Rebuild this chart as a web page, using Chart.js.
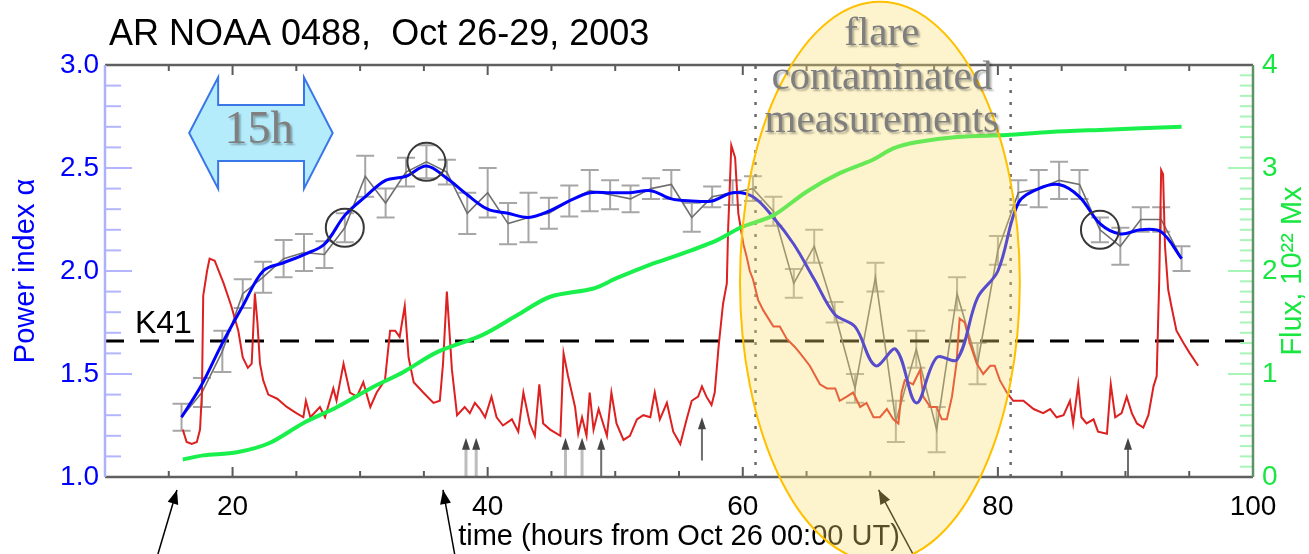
<!DOCTYPE html>
<html>
<head>
<meta charset="utf-8">
<script src="https://cdn.jsdelivr.net/npm/chart.js@4.4.0/dist/chart.umd.min.js"></script>
<style>
  html, body { margin: 0; padding: 0; background: #fff; }
  canvas { display: block; }
</style>
</head>
<body>
<canvas id="chart" width="1309" height="554"></canvas>
<script>
// time axis: hours from Oct 26 00:00 UT (one alpha value per 96-min magnetogram)
var hours = [16.0, 17.6, 19.2, 20.8, 22.4, 24.0, 25.6, 27.2, 28.8, 30.4, 32.0, 33.6, 35.2, 36.8, 38.4,
  40.0, 41.6, 43.2, 44.8, 46.4, 48.0, 49.6, 51.2, 52.8, 54.4, 56.0, 57.6, 59.2, 60.8, 62.4, 64.0,
  65.6, 67.2, 68.8, 70.4, 72.0, 73.6, 75.2, 76.8, 78.4, 80.0, 81.6, 83.2, 84.8, 86.4, 88.0, 89.6,
  91.2, 92.8, 94.4];
var powerIndex = [1.29, 1.41, 1.61, 1.89, 1.97, 2.06, 2.09, 2.08, 2.21, 2.46, 2.33, 2.48, 2.53, 2.48, 2.28,
  2.38, 2.23, 2.26, 2.28, 2.34, 2.39, 2.37, 2.35, 2.40, 2.42, 2.26, 2.36, 2.38, 2.40, 2.29, 1.94,
  2.12, 1.80, 1.43, 1.97, 1.27, 1.62, 1.23, 1.89, 1.55, 2.10, 2.38, 2.40, 2.44, 2.42, 2.20, 2.12,
  2.25, 2.25, 2.06];
var powerIndexErr = [0.065, 0.07, 0.10, 0.07, 0.075, 0.09, 0.09, 0.065, 0.07, 0.10, 0.07, 0.07, 0.08, 0.06, 0.10,
  0.12, 0.10, 0.12, 0.075, 0.075, 0.10, 0.07, 0.065, 0.05, 0.07, 0.07, 0.05, 0.06, 0.06, 0.07, 0.07,
  0.08, 0.05, 0.07, 0.07, 0.10, 0.09, 0.11, 0.08, 0.10, 0.07, 0.06, 0.09, 0.09, 0.07, 0.06, 0.09,
  0.06, 0.06, 0.06];
var powerIndexSmooth = [1.29, 1.45, 1.65, 1.83, 2.00, 2.04, 2.08, 2.13, 2.27, 2.36, 2.44, 2.46, 2.51, 2.45, 2.37,
  2.30, 2.28, 2.26, 2.29, 2.34, 2.38, 2.38, 2.38, 2.39, 2.35, 2.34, 2.34, 2.38, 2.36, 2.26, 2.13,
  1.96, 1.79, 1.73, 1.54, 1.62, 1.36, 1.58, 1.57, 1.87, 2.00, 2.33, 2.40, 2.42, 2.36, 2.23, 2.18,
  2.20, 2.19, 2.06];
var circledPoints = [8, 12, 45];

// total unsigned flux, 10^22 Mx (right axis)
var fluxHours = [16.1, 17.7, 20.35, 22.9, 25.5, 28.2, 30.8, 33.4, 36.0, 39.6, 42.3, 44.9, 48.3, 50.1, 52.7,
  55.3, 58.0, 59.8, 62.4, 65.0, 67.6, 70.2, 71.8, 73.6, 76.8, 80.7, 84.1, 88.0, 94.4];
var flux = [0.17, 0.21, 0.24, 0.33, 0.52, 0.68, 0.86, 1.02, 1.21, 1.38, 1.57, 1.75, 1.83, 1.93, 2.06,
  2.17, 2.30, 2.42, 2.54, 2.77, 2.95, 3.08, 3.19, 3.25, 3.30, 3.32, 3.35, 3.37, 3.40];

// X-ray flux curve, arbitrary scaling on the alpha axis
var xrayHours = [16.1, 16.4, 16.8, 17.2, 17.45, 17.6, 17.7, 18.0, 18.2, 18.6, 19.3, 19.9, 20.45, 20.8, 21.2,
  21.5, 21.75, 21.95, 22.15, 22.4, 22.8, 23.5, 24.25, 25.0, 25.55, 25.75, 26.1, 26.85, 27.25, 27.9,
  28.15, 28.7, 29.2, 29.75, 30.25, 30.8, 31.3, 31.95, 32.35, 32.75, 33.1, 33.5, 33.8, 34.2, 34.95,
  35.75, 36.25, 36.5, 36.8, 37.2, 37.6,
  38.2, 38.6, 39.0, 39.4, 39.8, 40.3, 40.7, 41.2, 41.9, 42.4, 42.8, 43.3, 43.7, 44.05, 44.35,
  44.9, 45.7, 45.95, 46.3, 46.85, 47.1, 47.4, 47.75, 48.0, 48.3, 48.7, 49.05, 49.35, 49.7, 50.1,
  50.65, 51.15, 51.7, 52.2, 52.75, 53.1, 53.5, 54.05, 54.55, 55.1, 55.6, 56.0, 56.5, 56.8, 57.15,
  57.55, 57.8, 58.1, 58.45, 58.75, 58.85, 59.0, 59.1, 59.4, 59.65, 60.05, 60.3, 60.55, 60.8, 61.2,
  61.6, 62.4, 62.9, 63.45, 64.1, 64.5, 65.25, 66.05, 66.6, 67.25, 67.6, 68.15, 68.65, 69.2, 69.7,
  70.25, 70.75, 71.3, 71.8, 72.2, 72.45, 72.7, 73.35, 73.9, 74.15, 74.7, 75.2, 75.6, 76.0, 76.4,
  76.75, 77.0, 77.4, 77.8, 78.35, 78.85, 79.4, 79.75, 80.15, 80.7, 81.2, 82.0, 82.8, 83.55, 84.1,
  84.6, 85.15, 85.65, 85.9, 86.3, 86.55, 86.95, 87.5, 87.85, 88.55, 88.85, 89.2, 89.7, 90.1, 90.5,
  90.9, 91.4, 91.8, 92.2, 92.45, 92.65, 92.8, 92.95, 93.1, 93.35, 93.6, 94.0, 94.55, 95.05, 95.7];
var xrayLevel = [1.23, 1.17, 1.16, 1.17, 1.23, 1.41, 1.88, 2.00, 2.06, 2.05, 1.94, 1.83, 1.71, 1.58, 1.53,
  1.55, 1.89, 1.75, 1.55, 1.47, 1.40, 1.38, 1.34, 1.31, 1.29, 1.37, 1.29, 1.34, 1.29, 1.43,
  1.37, 1.55, 1.41, 1.39, 1.46, 1.34, 1.41, 1.47, 1.71, 1.71, 1.68, 1.83, 1.58, 1.46, 1.41,
  1.36, 1.37, 1.55, 1.90, 1.52, 1.30,
  1.34, 1.31, 1.36, 1.33, 1.29, 1.39, 1.29, 1.25, 1.28, 1.22, 1.41, 1.26, 1.20, 1.45, 1.26,
  1.23, 1.20, 1.60, 1.49, 1.34, 1.21, 1.29, 1.20, 1.41, 1.23, 1.33, 1.26, 1.20, 1.41, 1.26,
  1.18, 1.20, 1.28, 1.30, 1.29, 1.41, 1.28, 1.36, 1.22, 1.16, 1.28, 1.37, 1.39, 1.44, 1.39,
  1.35, 1.41, 1.63, 1.84, 1.94, 2.20, 2.44, 2.61, 2.55, 2.28, 2.13, 2.07, 2.00, 1.96, 1.86,
  1.81, 1.73, 1.73, 1.67, 1.63, 1.60, 1.54, 1.45, 1.43, 1.43, 1.37, 1.39, 1.41, 1.34, 1.36,
  1.29, 1.29, 1.33, 1.28, 1.26, 1.41, 1.47, 1.45, 1.52, 1.39, 1.34, 1.34, 1.28, 1.28, 1.39,
  1.55, 1.77, 1.75, 1.65, 1.55, 1.50, 1.54, 1.54, 1.47, 1.41, 1.37, 1.37, 1.33, 1.31, 1.33,
  1.29, 1.30, 1.37, 1.26, 1.45, 1.29, 1.26, 1.28, 1.22, 1.21, 1.45, 1.29, 1.31, 1.39, 1.31,
  1.26, 1.24, 1.30, 1.44, 1.49, 1.96, 2.49, 2.47, 2.12, 1.91, 1.83, 1.71, 1.65, 1.60, 1.54];

// flares marked with small arrows
var flareArrowHours = [38.3, 39.1, 46.1, 47.4, 48.9, 56.8, 90.2];
var flareArrowTip = [1.19, 1.19, 1.19, 1.19, 1.19, 1.29, 1.19];
var flareArrowBase = [1.0, 1.0, 1.0, 1.0, 1.0, 1.08, 1.0];
var flareArrowFaint = [true, true, true, true, false, false, false];

var xTicks = [20, 40, 60, 80, 100];
var K41 = 1.66;
var flareWindow = [61, 81];

var BLUE = '#0000ff';
var GREEN = '#19e640';
Chart.defaults.font.family = '"Liberation Sans", Arial, sans-serif';

function pts(xs, ys) {
  return xs.map(function (x, i) { return { x: x, y: ys[i] }; });
}

function arrowHead(ctx, x0, y0, x1, y1, len, half) {
  var ang = Math.atan2(y1 - y0, x1 - x0), c = Math.cos(ang), s = Math.sin(ang);
  ctx.beginPath();
  ctx.moveTo(x1, y1);
  ctx.lineTo(x1 - len * c + half * s, y1 - len * s - half * c);
  ctx.lineTo(x1 - len * c - half * s, y1 - len * s + half * c);
  ctx.closePath();
  ctx.fill();
}

var overlay = {
  id: 'overlay',
  beforeDatasetsDraw: function (chart) {
    var ctx = chart.ctx, X = chart.scales.x, Y = chart.scales.y;
    ctx.save();
    ctx.strokeStyle = '#a6a6a6';
    ctx.lineWidth = 2;
    hours.forEach(function (t, i) {
      var px = X.getPixelForValue(t);
      var lo = Y.getPixelForValue(powerIndex[i] - powerIndexErr[i]);
      var hi = Y.getPixelForValue(powerIndex[i] + powerIndexErr[i]);
      ctx.beginPath();
      ctx.moveTo(px, lo); ctx.lineTo(px, hi);
      ctx.moveTo(px - 9, lo); ctx.lineTo(px + 9, lo);
      ctx.moveTo(px - 9, hi); ctx.lineTo(px + 9, hi);
      ctx.stroke();
    });
    ctx.restore();
  },
  afterDraw: function (chart) {
    var ctx = chart.ctx, a = chart.chartArea;
    var X = chart.scales.x, Y = chart.scales.y, Y2 = chart.scales.y2;
    var px = function (v) { return X.getPixelForValue(v); };
    var py = function (v) { return Y.getPixelForValue(v); };
    ctx.save();

    // flare arrows inside the plot
    flareArrowHours.forEach(function (t, i) {
      var x = px(t), yt = py(flareArrowTip[i]), yb = py(flareArrowBase[i]);
      ctx.strokeStyle = flareArrowFaint[i] ? '#bdbdbd' : '#6e6e6e';
      ctx.lineWidth = flareArrowFaint[i] ? 3 : 2;
      ctx.beginPath(); ctx.moveTo(x, yb); ctx.lineTo(x, yt + 8); ctx.stroke();
      ctx.fillStyle = '#454545';
      arrowHead(ctx, x, yb, x, yt, 12, 4);
    });

    // K41 label
    ctx.fillStyle = '#000';
    ctx.font = '32px "Liberation Sans", Arial, sans-serif';
    ctx.textAlign = 'left';
    ctx.textBaseline = 'alphabetic';
    ctx.fillText('K41', px(12.35), py(1.70));

    // pointer arrows below the axis
    [[14.15, 0.626, 15.64, 0.937], [37.41, 0.626, 36.5, 0.937], [73.34, 0.626, 70.65, 0.937]].forEach(function (p) {
      var x0 = px(p[0]), y0 = py(p[1]), x1 = px(p[2]), y1 = py(p[3]);
      ctx.strokeStyle = '#000'; ctx.fillStyle = '#000'; ctx.lineWidth = 1.5;
      ctx.beginPath(); ctx.moveTo(x0, y0); ctx.lineTo(x1, y1); ctx.stroke();
      arrowHead(ctx, x0, y0, x1, y1, 14, 5.5);
    });

    // axis tick marks (inward) and frame
    ctx.lineWidth = 2;
    ctx.strokeStyle = '#5a5a5a';
    for (var t = 10; t <= 100; t += 5) {
      var tx = px(t), tl = t % 20 === 0 ? 10 : 6;
      ctx.beginPath();
      ctx.moveTo(tx, a.bottom); ctx.lineTo(tx, a.bottom - tl);
      ctx.moveTo(tx, a.top); ctx.lineTo(tx, a.top + tl);
      ctx.stroke();
    }
    ctx.strokeStyle = '#b3b6ff';
    for (var i = 0; i <= 20; i++) {
      var ly = py(1 + i / 10), ll = i % 5 === 0 ? 27 : 16;
      ctx.beginPath(); ctx.moveTo(a.left, ly); ctx.lineTo(a.left + ll, ly); ctx.stroke();
    }
    ctx.strokeStyle = '#a8f5b8';
    for (var j = 0; j <= 40; j++) {
      var ry = Y2.getPixelForValue(j / 10), rl = j % 10 === 0 ? 25 : 13;
      ctx.beginPath(); ctx.moveTo(a.right, ry); ctx.lineTo(a.right - rl, ry); ctx.stroke();
    }
    ctx.lineWidth = 2.5;
    ctx.strokeStyle = '#5f5f5f';
    ctx.beginPath();
    ctx.moveTo(a.left, a.top); ctx.lineTo(a.right, a.top);
    ctx.moveTo(a.left, a.bottom); ctx.lineTo(a.right, a.bottom);
    ctx.stroke();
    ctx.strokeStyle = '#aeb2fa';
    ctx.beginPath(); ctx.moveTo(a.left, a.top); ctx.lineTo(a.left, a.bottom); ctx.stroke();
    ctx.strokeStyle = '#5f9266';
    ctx.beginPath(); ctx.moveTo(a.right, a.top); ctx.lineTo(a.right, a.bottom); ctx.stroke();

    // right axis title (reads bottom to top)
    ctx.save();
    ctx.translate(1293, (a.top + a.bottom) / 2);
    ctx.rotate(-Math.PI / 2);
    ctx.fillStyle = GREEN;
    ctx.font = '29px "Liberation Sans", Arial, sans-serif';
    ctx.textAlign = 'center';
    ctx.textBaseline = 'middle';
    ctx.fillText('Flux, 10\u00b2\u00b2 Mx', 0, 0);
    ctx.restore();

    // flare-contaminated region
    var cx = px(70.75), cy = py(1.947);
    var rx = px(70.75 + 10.97) - cx, ry = py(1.947 - 1.36) - cy;
    ctx.beginPath();
    ctx.ellipse(cx, cy, rx, ry, 0, 0, Math.PI * 2);
    ctx.fillStyle = 'rgba(249, 221, 109, 0.35)';
    ctx.fill();
    ctx.strokeStyle = '#ffc000';
    ctx.lineWidth = 2;
    ctx.stroke();

    ctx.font = '41px "Liberation Serif", "Times New Roman", serif';
    ctx.textAlign = 'center';
    ctx.textBaseline = 'alphabetic';
    ctx.shadowColor = 'rgba(0, 0, 0, 0.3)';
    ctx.shadowOffsetX = 2; ctx.shadowOffsetY = 2; ctx.shadowBlur = 2;
    ctx.fillStyle = '#7f7f7f';
    ctx.fillText('flare', px(70.9), py(3.097));
    ctx.fillText('contaminated', px(70.9), py(2.883));
    ctx.fillText('measurements', px(70.9), py(2.675));
    ctx.shadowColor = 'rgba(0, 0, 0, 0)';

    // 15h double arrow
    var l = px(16.6), r = px(27.85), hl = px(18.87), hr = px(25.6);
    var mid = py(2.67), ht = py(2.94), hb = py(2.40), st = py(2.806), sb = py(2.534);
    ctx.beginPath();
    ctx.moveTo(l, mid);
    ctx.lineTo(hl, ht); ctx.lineTo(hl, st); ctx.lineTo(hr, st); ctx.lineTo(hr, ht);
    ctx.lineTo(r, mid);
    ctx.lineTo(hr, hb); ctx.lineTo(hr, sb); ctx.lineTo(hl, sb); ctx.lineTo(hl, hb);
    ctx.closePath();
    ctx.fillStyle = '#b4ecfc';
    ctx.fill();
    ctx.strokeStyle = '#3a76e8';
    ctx.lineWidth = 2;
    ctx.stroke();
    ctx.font = '46px "Liberation Serif", "Times New Roman", serif';
    ctx.shadowColor = 'rgba(0, 0, 0, 0.3)';
    ctx.fillStyle = '#7f7f7f';
    ctx.fillText('15h', px(22.07), py(2.621));
    ctx.shadowColor = 'rgba(0, 0, 0, 0)';

    // title
    ctx.fillStyle = '#000';
    ctx.font = '36px "Liberation Sans", Arial, sans-serif';
    ctx.textAlign = 'left';
    ctx.fillText('AR NOAA 0488,  Oct 26-29, 2003', a.left + 4, a.top - 20);
    ctx.restore();
  }
};

new Chart(document.getElementById('chart'), {
  type: 'line',
  data: {
    datasets: [
      {
        data: circledPoints.map(function (i) { return { x: hours[i], y: powerIndex[i] }; }),
        showLine: false, pointRadius: 19, pointBorderWidth: 2,
        pointBorderColor: '#383838', pointBackgroundColor: 'rgba(0,0,0,0)',
        yAxisID: 'y', order: 0
      },
      {
        data: pts(fluxHours, flux),
        borderColor: '#19f04b', borderWidth: 4, pointRadius: 0, yAxisID: 'y2', order: 1,
        tension: 0.3
      },
      {
        data: pts(hours, powerIndexSmooth),
        borderColor: BLUE, borderWidth: 3, pointRadius: 0, yAxisID: 'y', order: 2,
        tension: 0.35
      },
      {
        data: pts(xrayHours, xrayLevel),
        borderColor: '#dd2020', borderWidth: 2, pointRadius: 0, yAxisID: 'y', order: 3
      },
      {
        data: pts(hours, powerIndex),
        borderColor: '#6f6f6f', borderWidth: 1.6, pointRadius: 0, yAxisID: 'y', order: 4
      },
      {
        data: [{ x: 10, y: K41 }, { x: 100, y: K41 }],
        borderColor: '#000', borderWidth: 3, borderDash: [19, 16], pointRadius: 0, yAxisID: 'y', order: 5
      },
      {
        data: [{ x: flareWindow[0], y: 1 }, { x: flareWindow[0], y: 3 }],
        borderColor: '#6a6a6a', borderWidth: 2.5, borderDash: [3, 9], pointRadius: 0, yAxisID: 'y', order: 6
      },
      {
        data: [{ x: flareWindow[1], y: 1 }, { x: flareWindow[1], y: 3 }],
        borderColor: '#6a6a6a', borderWidth: 2.5, borderDash: [3, 9], pointRadius: 0, yAxisID: 'y', order: 6
      }
    ]
  },
  options: {
    responsive: false,
    devicePixelRatio: 1,
    animation: false,
    events: [],
    layout: { padding: { top: 65, left: 0, right: 0, bottom: 0 } },
    plugins: { legend: { display: false }, tooltip: { enabled: false }, title: { display: false } },
    elements: { line: { tension: 0, fill: false } },
    scales: {
      x: {
        type: 'linear', position: 'bottom', min: 10, max: 100,
        afterBuildTicks: function (s) { s.ticks = xTicks.map(function (v) { return { value: v }; }); },
        ticks: { autoSkip: false, maxRotation: 0, padding: 13, color: '#000', font: { size: 28 } },
        grid: { display: false, drawTicks: false }, border: { display: false },
        title: { display: true, text: 'time (hours from Oct 26 00:00 UT)', color: '#000',
          font: { size: 29 }, padding: { top: 0, bottom: 0 } },
        afterFit: function (s) { s.height = 77; }
      },
      y: {
        type: 'linear', position: 'left', min: 1, max: 3,
        ticks: { stepSize: 0.5, padding: 6, color: BLUE, font: { size: 28 },
          callback: function (v) { return v.toFixed(1); } },
        grid: { display: false, drawTicks: false }, border: { display: false },
        title: { display: true, text: 'Power index \u03b1', color: BLUE,
          font: { size: 29 }, padding: { top: 9, bottom: 0 } },
        afterFit: function (s) { s.width = 105; }
      },
      y2: {
        type: 'linear', position: 'right', min: 0, max: 4,
        ticks: { stepSize: 1, padding: 9, color: GREEN, font: { size: 28 } },
        grid: { display: false, drawTicks: false }, border: { display: false },
        afterFit: function (s) { s.width = 56; }
      }
    }
  },
  plugins: [overlay]
});
</script>
</body>
</html>
